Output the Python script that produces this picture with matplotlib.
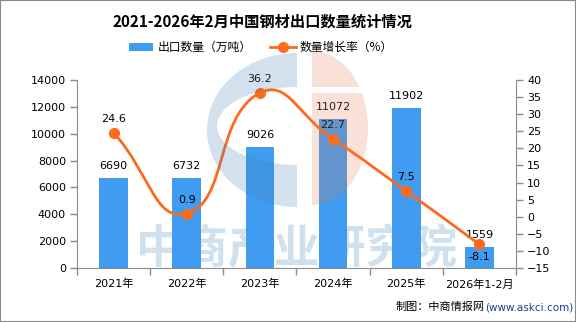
import numpy as np
import matplotlib
matplotlib.use("Agg")
import matplotlib.pyplot as plt
from matplotlib.path import Path
from matplotlib.patches import PathPatch, Rectangle, Polygon
from matplotlib.lines import Line2D

plt.rcParams['font.family'] = ['DejaVu Sans', 'Noto Sans CJK SC']

# Data
categories = ["2021年", "2022年", "2023年", "2024年", "2025年", "2026年1-2月"]
export_volume = [6690, 6732, 9026, 11072, 11902, 1559]   # 万吨
growth_rate = [24.6, 0.9, 36.2, 22.7, 7.5, -8.1]          # %
left_ticks = list(range(0, 14001, 2000))
right_ticks = list(range(-15, 41, 5))

W, H = 576, 322
fig = plt.figure(figsize=(W / 100, H / 100), dpi=100)


def fx(x):
    return x / W


def fy(y):
    return 1 - y / H


BAR_C = "#3f9cf1"
LINE_C = "#fd6a1c"
AX_C = "#8c8c8c"

ax = fig.add_axes([fx(77), fy(268), (516 - 77) / W, (268 - 80) / H])
ax2 = ax.twinx()

x = np.arange(len(categories))

# watermark text behind bars
ax.text(2.5, 1300, "中商产业研究院", ha="center", va="center", fontsize=33,
        fontweight="bold", family=["Noto Sans CJK SC"], color="#cfe1ee", zorder=0.5)

ax.bar(x, export_volume, width=0.39, color=BAR_C, zorder=2)
ax.set_xlim(-0.5, len(categories) - 0.5)
ax.set_ylim(0, 14000)
ax.set_yticks(left_ticks)
ax.set_xticks(x)
ax.set_xticklabels(categories, fontsize=8)
ax.set_xticks(np.arange(-0.5, len(categories), 1), minor=True)
ax.tick_params(axis="x", which="major", length=0, pad=8)
ax.tick_params(axis="x", which="minor", length=5, color=AX_C, width=1)
ax.tick_params(axis="y", length=5, color=AX_C, width=1, labelsize=8, pad=3)

for xi, v in zip(x, export_volume):
    ax.text(xi, v + 520, f"{v}", ha="center", va="bottom", fontsize=8, zorder=5)

ax2.set_ylim(-15, 40)
ax2.set_yticks(right_ticks)
ax2.tick_params(axis="y", length=5, color=AX_C, width=1, labelsize=8, pad=3)

for a in (ax, ax2):
    for s in ("top",):
        a.spines[s].set_visible(False)
    a.spines["left"].set_color(AX_C)
    a.spines["right"].set_color(AX_C)
    a.spines["bottom"].set_color(AX_C)
ax.spines["right"].set_visible(False)
ax2.spines["left"].set_visible(False)
ax2.spines["bottom"].set_visible(False)

# Smooth line through the growth points (bezier control points computed in pixel space)
fig.canvas.draw()
pts = ax2.transData.transform(np.column_stack([x, growth_rate]))
smooth = 0.5
n = len(pts)
cp_next = []
cp_prev = []
for i in range(n):
    p = pts[i]
    prev = pts[i - 1] if i > 0 else p
    nxt = pts[i + 1] if i < n - 1 else p
    v = nxt - prev
    d0 = np.hypot(*(p - prev))
    d1 = np.hypot(*(nxt - p))
    r = d1 / (d0 + d1) if d0 + d1 > 0 else 0.5
    cp_next.append(p + v * smooth * r)
    cp_prev.append(p - v * smooth * (1 - r))
verts = [pts[0]]
codes = [Path.MOVETO]
for i in range(n - 1):
    verts += [cp_next[i], cp_prev[i + 1], pts[i + 1]]
    codes += [Path.CURVE4] * 3
inv = ax2.transData.inverted()
verts_data = inv.transform(np.array(verts))
ax2.add_patch(PathPatch(Path(verts_data, codes), fill=False, edgecolor=LINE_C,
                        lw=2.0, zorder=3, capstyle="round", joinstyle="round"))
ax2.plot(x, growth_rate, linestyle="none", marker="o", markersize=7,
         color=LINE_C, zorder=4)

for i, (xi, v) in enumerate(zip(x, growth_rate)):
    if v < 0:
        ax2.text(xi, v - 2.2, f"{v}", ha="center", va="top", fontsize=8, zorder=5)
    else:
        ax2.text(xi, v + 2.6, f"{v}", ha="center", va="bottom", fontsize=8, zorder=5)

# Watermark logo drawn in figure pixel space
def ell(cx, cy, rx, ry, a0, a1, num=60):
    t = np.radians(np.linspace(a0, a1, num))
    return np.column_stack([cx + rx * np.cos(t), cy - ry * np.sin(t)])


outer = ell(297, 130, 90, 77, 90, 270)
inner = ell(297, 126, 80, 39, 270, 90)
blue_c = np.vstack([outer, inner])
blue_c = np.column_stack([fx(blue_c[:, 0]), fy(blue_c[:, 1])])
fig.patches.append(Polygon(blue_c, closed=True, transform=fig.transFigure,
                           facecolor=(70 / 255, 130 / 255, 180 / 255, 0.24),
                           edgecolor="none", zorder=10))

half = ell(312, 128, 56, 77, 90, -90, 120)
top = half[half[:, 1] <= 87]
bot = half[half[:, 1] >= 93]
top_poly = np.vstack([[312, 87], top, [top[-1][0], 87]])
bot_poly = np.vstack([[312, 93], [bot[0][0], 93], bot, [312, bot[-1][1]]])
for poly in (top_poly, bot_poly):
    pp = np.column_stack([fx(poly[:, 0]), fy(poly[:, 1])])
    fig.patches.append(Polygon(pp, closed=True, transform=fig.transFigure,
                               facecolor=(235 / 255, 120 / 255, 80 / 255, 0.22),
                               edgecolor="none", zorder=10))

# Title
fig.text(fx(262), fy(22), "2021-2026年2月中国钢材出口数量统计情况", ha="center", va="center",
         fontsize=11, fontweight="bold", family=["Noto Sans CJK SC"])

# Legend
fig.patches.append(Rectangle((fx(129), fy(51)), 24 / W, 8 / H, transform=fig.transFigure,
                             facecolor=BAR_C, edgecolor="none"))
fig.text(fx(158), fy(47), "出口数量（万吨）", ha="left", va="center", fontsize=8.5,
         family=["Noto Sans CJK SC"])
fig.lines.append(Line2D([fx(270), fx(296)], [fy(47), fy(47)], transform=fig.transFigure,
                        color=LINE_C, lw=2.0))
fig.lines.append(Line2D([fx(283)], [fy(47)], transform=fig.transFigure, color=LINE_C,
                        marker="o", markersize=7))
fig.text(fx(300), fy(47), "数量增长率（%）", ha="left", va="center", fontsize=8.5,
         family=["Noto Sans CJK SC"])

# Source note
fig.text(fx(485), fy(307), "制图：中商情报网", ha="right", va="center", fontsize=8,
         family=["Noto Sans CJK SC"])
fig.text(fx(485), fy(307), "(www.askci.com)", ha="left", va="center", fontsize=7.5,
         color="#1f3c88")

# Outer frame
fig.patches.append(Rectangle((0, 0), 1, 1, transform=fig.transFigure, fill=False,
                             edgecolor="#8a8a8a", lw=1.5))

fig.savefig("out.png", dpi=100)
